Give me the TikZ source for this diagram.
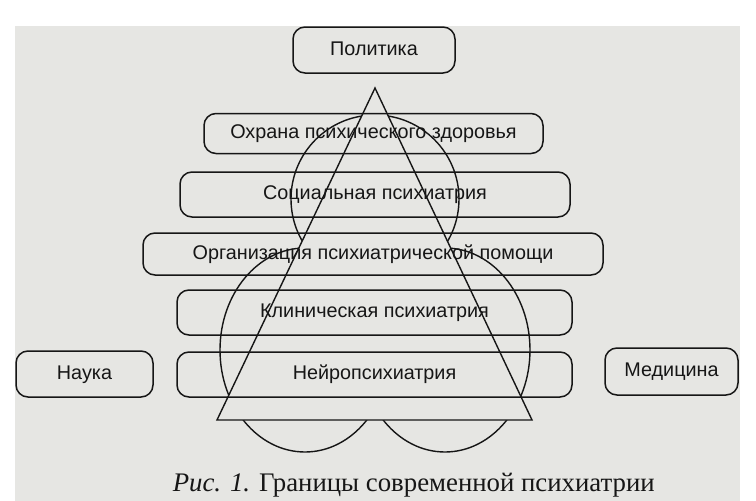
\documentclass[tikz,border=0pt]{standalone}
\usepackage{fontspec}
\setmainfont{Liberation Sans}
\newfontfamily\capfont{Liberation Serif}
\definecolor{page}{RGB}{230,230,227}
\definecolor{ink}{RGB}{22,22,22}
\begin{document}
\begin{tikzpicture}[x=1pt,y=-1pt,line width=1.5pt,
  box/.style={draw=ink,rounded corners=12pt,inner sep=0pt,text=ink,
    font=\fontsize{19.8}{23}\selectfont,text height=14.5pt,text depth=4pt},
  shapeline/.style={draw=ink,line width=1.4pt}]
\useasboundingbox (0,0) rectangle (756,501);
\fill[white] (0,0) rectangle (756,501);
\fill[page] (15,26) rectangle (740,501);
% curves behind the triangle
\draw[shapeline] (375,199) circle[radius=84pt];
\draw[shapeline] (305,350) ellipse[x radius=85pt,y radius=102pt];
\draw[shapeline] (445,350) ellipse[x radius=85pt,y radius=102pt];
% triangle
\coordinate (apex) at (375,88);
\coordinate (bl) at (217,420);
\coordinate (br) at (532,420);
\filldraw[fill=page,draw=ink,line width=1.4pt] (apex) -- (bl) -- (br) -- cycle;
% boxes
\node[box,minimum width=162pt,minimum height=46pt] (pol) at (374,50) {Политика};
\node[box,minimum width=339pt,minimum height=40pt] (ohr) at (373.5,133.5) {Охрана психического здоровья};
\node[box,minimum width=390pt,minimum height=45pt] (soc) at (375,194.5) {Социальная психиатрия};
\node[box,minimum width=460pt,minimum height=42pt] (org) at (373,254) {Организация психиатрической помощи};
\node[box,minimum width=395pt,minimum height=45pt] (kli) at (374.5,312.5) {Клиническая психиатрия};
\node[box,minimum width=395pt,minimum height=45pt] (neu) at (374.5,374.5) {Нейропсихиатрия};
\node[box,minimum width=137pt,minimum height=46pt] (nau) at (84.5,374) {Наука};
\node[box,minimum width=133pt,minimum height=47pt] (med) at (671.5,371.5) {Медицина};
% caption
\node[anchor=base west,inner sep=0pt,text=ink,font=\capfont\fontsize{26.8}{31}\selectfont] (cap) at (172,491) {\textit{Рис. 1.} Границы современной психиатрии};
\end{tikzpicture}
\end{document}
